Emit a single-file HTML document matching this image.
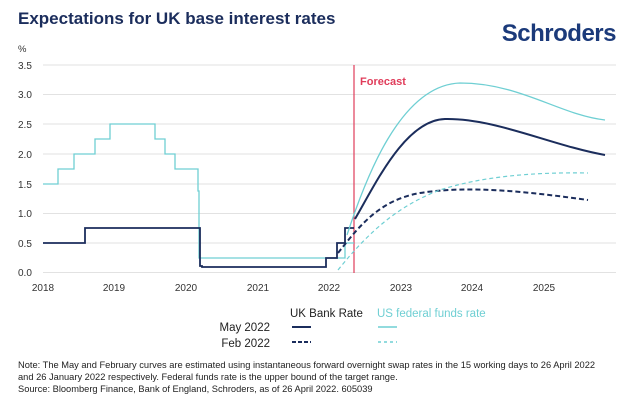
<!DOCTYPE html>
<html><head><meta charset="utf-8"><style>
html,body{margin:0;padding:0;background:#fff;}
svg{display:block;font-family:"Liberation Sans",sans-serif;}
</style></head><body>
<svg width="640" height="413" viewBox="0 0 640 413" xmlns="http://www.w3.org/2000/svg">
<rect width="640" height="413" fill="#fff"/>
<text x="18" y="24" font-size="17" font-weight="bold" fill="#1b2d5c">Expectations for UK base interest rates</text>
<text x="616" y="41" font-size="24" font-weight="bold" fill="#1b3a7a" text-anchor="end" letter-spacing="-0.5">Schroders</text>
<text x="18" y="52" font-size="9.5" fill="#333">%</text>
<g stroke="#e2e2e2" stroke-width="1">
<line x1="43" x2="616" y1="65" y2="65"/><line x1="43" x2="616" y1="94.5" y2="94.5"/>
<line x1="43" x2="616" y1="124" y2="124"/><line x1="43" x2="616" y1="154" y2="154"/>
<line x1="43" x2="616" y1="184" y2="184"/><line x1="43" x2="616" y1="213.5" y2="213.5"/>
<line x1="43" x2="616" y1="243" y2="243"/><line x1="43" x2="616" y1="272.5" y2="272.5"/>
</g>
<g font-size="10" fill="#333">
<text x="18" y="69">3.5</text><text x="18" y="98">3.0</text><text x="18" y="128">2.5</text>
<text x="18" y="158">2.0</text><text x="18" y="188">1.5</text><text x="18" y="217">1.0</text>
<text x="18" y="247">0.5</text><text x="18" y="276">0.0</text>
</g>
<g font-size="10" fill="#333" text-anchor="middle">
<text x="43" y="291">2018</text><text x="114" y="291">2019</text><text x="186" y="291">2020</text>
<text x="258" y="291">2021</text><text x="329" y="291">2022</text><text x="401" y="291">2023</text>
<text x="472" y="291">2024</text><text x="544" y="291">2025</text>
</g>
<line x1="354" x2="354" y1="65" y2="273" stroke="#e03c5a" stroke-width="1.2"/>
<text x="360" y="85" font-size="11" font-weight="bold" fill="#e03c5a">Forecast</text>
<polyline fill="none" stroke="#6fcfd3" stroke-width="1.3" points="43,184 58,184 58,169 74,169 74,154 95,154 95,139 110,139 110,124 155,124 155,139 165,139 165,154 175,154 175,169 198,169 198,191 199,191 199,258 345,258 345,243 354,243"/>
<polyline fill="none" stroke="#1b2d5c" stroke-width="1.8" points="43,243 85,243 85,228 200,228 200,266 202,266 202,267 326,267 326,258 337,258 337,243 345,243 345,228 354,228"/>
<path d="M347,235 C365,180 400,85 460,83 C520,83 560,115 605,120" fill="none" stroke="#6fcfd3" stroke-width="1.3"/>
<path d="M355,219 C375,185 405,120 445,119 C495,118 550,145 605,155" fill="none" stroke="#1b2d5c" stroke-width="2"/>
<path d="M338,253 C360,225 380,200 420,193 C470,185 530,192 588,200" fill="none" stroke="#1b2d5c" stroke-width="2" stroke-dasharray="5,3"/>
<path d="M338,270 C370,230 400,205 440,190 C480,177 530,172 588,173" fill="none" stroke="#6fcfd3" stroke-width="1.2" stroke-dasharray="4,3"/>
<text x="290" y="317" font-size="11.5" fill="#222">UK Bank Rate</text>
<text x="377" y="317" font-size="11.5" fill="#6fcfd3">US federal funds rate</text>
<text x="270" y="331" font-size="11.5" fill="#222" text-anchor="end">May 2022</text>
<text x="270" y="347" font-size="11.5" fill="#222" text-anchor="end">Feb 2022</text>
<line x1="292" x2="311" y1="327" y2="327" stroke="#1b2d5c" stroke-width="2"/>
<line x1="378" x2="397" y1="327" y2="327" stroke="#6fcfd3" stroke-width="1.5"/>
<line x1="292" x2="311" y1="342" y2="342" stroke="#1b2d5c" stroke-width="2" stroke-dasharray="4,2"/>
<line x1="378" x2="397" y1="342" y2="342" stroke="#6fcfd3" stroke-width="1.5" stroke-dasharray="3,3"/>
<g font-size="9.3" fill="#222">
<text x="18" y="368">Note: The May and February curves are estimated using instantaneous forward overnight swap rates in the 15 working days to 26 April 2022</text>
<text x="18" y="380">and 26 January 2022 respectively. Federal funds rate is the upper bound of the target range.</text>
<text x="18" y="392">Source: Bloomberg Finance, Bank of England, Schroders, as of 26 April 2022. 605039</text>
</g>
</svg>
</body></html>
